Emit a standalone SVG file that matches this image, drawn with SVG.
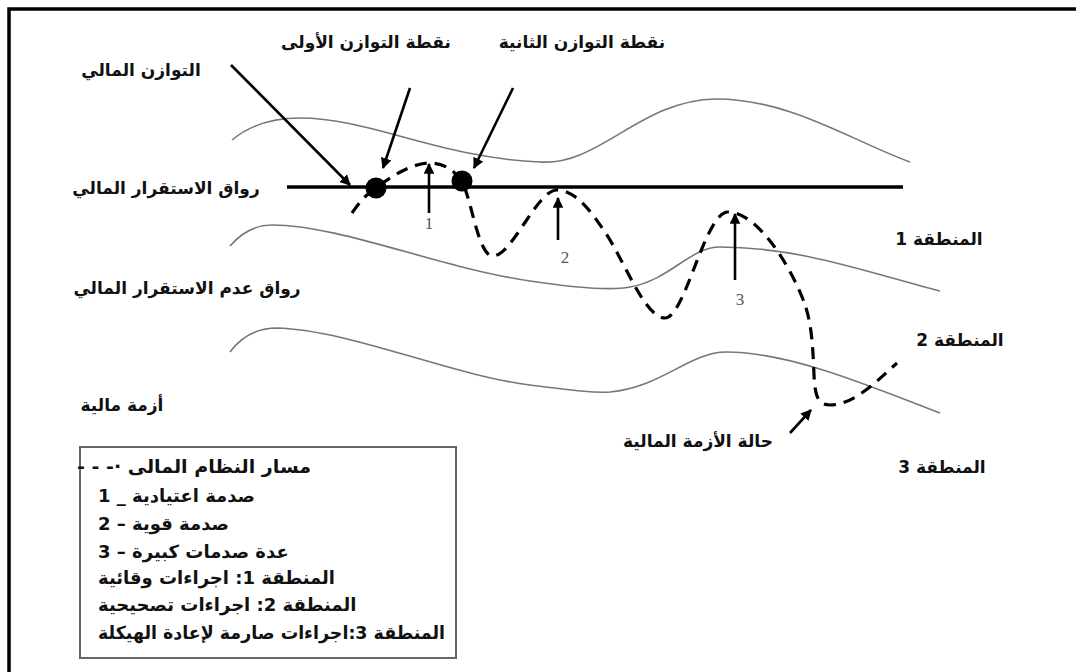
<svg xmlns="http://www.w3.org/2000/svg" width="1076" height="672" viewBox="0 0 1076 672">
<defs>
<style>
.lbl{font-family:"DejaVu Sans","Liberation Sans",sans-serif;font-weight:bold;font-size:17px;fill:#111;direction:rtl;}
.leg{font-size:18px;}
.num{font-family:"Liberation Serif",serif;font-size:17px;fill:#555;}
.band{fill:none;stroke:#777;stroke-width:1.6;}
.arr{stroke:#000;stroke-width:2.6;fill:none;marker-end:url(#ah);}
.path{fill:none;stroke:#000;stroke-width:3.2;stroke-dasharray:12 8;}
</style>
<marker id="ah" viewBox="0 0 10 10" refX="9" refY="5" markerWidth="4.2" markerHeight="4.2" orient="auto" markerUnits="strokeWidth">
<path d="M0,0 L10,5 L0,10 z" fill="#000"/>
</marker>
</defs>
<rect width="1076" height="672" fill="#fff"/>
<path d="M9,672 V9 H1076" fill="none" stroke="#000" stroke-width="3.5"/>

<g id="bands">
<path class="band" d="M232,140 C 250,125 272,118 300,118 C 370,118 440,158 540,162 C 600,166 640,100 716,99 C 790,99 850,140 910,162"/>
<path class="band" d="M230,246 C 242,232 255,225 272,225 C 340,225 440,268 530,281 C 590,290 615,290 630,287 C 670,280 690,247 720,247 C 800,247 870,273 940,291"/>
<path class="band" d="M230,352 C 242,336 257,328 277,328 C 350,330 450,375 530,385 C 570,390 592,393 610,392 C 660,388 690,352 726,352 C 790,352 870,386 940,413"/>
</g>

<g id="corridor-line">
<line x1="287" y1="187" x2="903" y2="187" stroke="#000" stroke-width="3.5"/>
</g>

<g id="system-path">
<path class="path" d="M352,213 C 360,202 366,194 376,188 C 392,176 412,163 430,163 C 445,163 456,172 462,182 C 472,200 478,256 493,256 C 512,256 537,190 557,190 C 575,190 590,210 605,232 C 625,262 645,318 665,318 C 685,318 705,212 728,212 C 760,212 795,275 805,305 C 812,325 813,350 814,375 C 815,400 820,405 830,405 C 855,405 880,378 897,363"/>
</g>

<g id="eq-point-1"><circle cx="376" cy="188" r="10.5" fill="#000"/></g>
<g id="eq-point-2"><circle cx="462" cy="181" r="10.5" fill="#000"/></g>

<g id="connectors">
<line class="arr" x1="231" y1="65" x2="350" y2="185"/>
<line class="arr" x1="410" y1="88" x2="383" y2="168"/>
<line class="arr" x1="513" y1="88" x2="474" y2="168"/>
<line class="arr" x1="429" y1="213" x2="429" y2="164"/>
<line class="arr" x1="558" y1="240" x2="558" y2="198"/>
<line class="arr" x1="735" y1="280" x2="735" y2="214"/>
<line class="arr" x1="790" y1="433" x2="811" y2="410"/>
</g>

<g id="numbers">
<text class="num" x="429" y="229" text-anchor="middle">1</text>
<text class="num" x="565" y="263" text-anchor="middle">2</text>
<text class="num" x="740" y="305" text-anchor="middle">3</text>
</g>

<g id="labels">
<text class="lbl" x="141" y="76" text-anchor="middle">التوازن المالي</text>
<text class="lbl" x="366" y="48" text-anchor="middle">نقطة التوازن الأولى</text>
<text class="lbl" x="582" y="48" text-anchor="middle">نقطة التوازن الثانية</text>
<text class="lbl" x="166" y="194" text-anchor="middle">رواق الاستقرار المالي</text>
<text class="lbl" x="939" y="245" text-anchor="middle">المنطقة 1</text>
<text class="lbl" x="187" y="294" text-anchor="middle">رواق عدم الاستقرار المالي</text>
<text class="lbl" x="960" y="346" text-anchor="middle">المنطقة 2</text>
<text class="lbl" x="122" y="411" text-anchor="middle">أزمة مالية</text>
<text class="lbl" x="698" y="447" text-anchor="middle">حالة الأزمة المالية</text>
<text class="lbl" x="942" y="473" text-anchor="middle">المنطقة 3</text>
</g>

<g id="legend">
<rect x="80" y="447" width="376" height="211" fill="#fff" stroke="#666" stroke-width="2"/>
<text class="lbl leg" x="77" y="473" text-anchor="end" textLength="234" lengthAdjust="spacingAndGlyphs">مسار النظام المالى ·- - -</text>
<text class="lbl leg" x="98" y="502" text-anchor="end">صدمة اعتيادية _ 1</text>
<text class="lbl leg" x="98" y="530" text-anchor="end">صدمة قوية – 2</text>
<text class="lbl leg" x="98" y="558" text-anchor="end">عدة صدمات كبيرة – 3</text>
<text class="lbl leg" x="98" y="584" text-anchor="end">المنطقة 1: اجراءات وقائية</text>
<text class="lbl leg" x="98" y="611" text-anchor="end">المنطقة 2: اجراءات تصحيحية</text>
<text class="lbl leg" x="98" y="639" text-anchor="end" textLength="347" lengthAdjust="spacingAndGlyphs">المنطقة 3:اجراءات صارمة لإعادة الهيكلة</text>
</g>
</svg>
